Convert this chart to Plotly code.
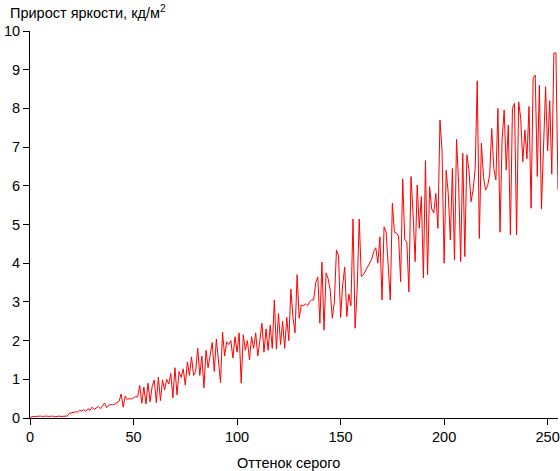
import plotly.graph_objects as go

# gray level 0..255 and brightness increment per step
gray = list(range(256))

inc_000 = [0.02, 0.04, 0.04, 0.04, 0.05, 0.05, 0.04, 0.05, 0.05, 0.04, 0.05, 0.05, 0.03, 0.04, 0.05, 0.04]
inc_016 = [0.05, 0.04, 0.05, 0.12, 0.13, 0.14, 0.16, 0.15, 0.2, 0.18, 0.22, 0.17, 0.24, 0.2, 0.28, 0.22]
inc_032 = [0.26, 0.3, 0.24, 0.33, 0.39, 0.27, 0.33, 0.35, 0.34, 0.36, 0.4, 0.43, 0.62, 0.28, 0.57, 0.48]
inc_048 = [0.5, 0.49, 0.52, 0.55, 0.55, 0.84, 0.38, 0.8, 0.36, 0.9, 0.42, 0.82, 0.98, 0.4, 1.05, 0.45]
inc_064 = [0.98, 0.72, 1.0, 0.88, 1.15, 0.52, 1.3, 0.6, 1.2, 1.05, 1.27, 0.85, 1.45, 1.1, 1.58, 1.1]
inc_080 = [1.2, 1.8, 1.1, 1.6, 0.78, 1.75, 1.3, 1.6, 1.95, 1.2, 2.04, 1.5, 0.91, 2.22, 1.6, 1.97]
inc_096 = [1.9, 2.0, 1.55, 2.1, 1.7, 2.2, 0.9, 2.15, 1.75, 2.0, 1.5, 2.1, 1.8, 2.2, 1.6, 2.0]
inc_112 = [2.45, 1.7, 2.3, 1.75, 2.4, 1.8, 3.05, 1.78, 2.7, 1.9, 2.5, 1.8, 2.6, 2.0, 3.33, 2.6]
inc_128 = [2.2, 3.7, 2.58, 2.92, 2.9, 2.95, 2.9, 3.0, 3.05, 3.05, 3.5, 3.64, 2.45, 4.03, 2.27, 3.75]
inc_144 = [3.6, 3.3, 2.58, 3.0, 4.34, 4.2, 2.6, 3.44, 3.9, 2.62, 3.2, 2.9, 5.14, 2.32, 3.3, 5.14]
inc_160 = [3.66, 3.7, 3.8, 3.9, 4.0, 4.1, 4.3, 4.4, 4.0, 4.68, 3.05, 4.94, 4.8, 3.9, 3.05, 5.55]
inc_176 = [4.8, 4.78, 4.7, 3.52, 6.18, 4.6, 4.55, 3.26, 6.24, 5.3, 4.04, 6.02, 4.9, 5.72, 3.62, 6.65]
inc_192 = [3.7, 5.98, 5.4, 5.3, 5.8, 4.9, 7.7, 6.9, 4.0, 6.4, 5.8, 4.6, 6.45, 4.08, 7.2, 6.06]
inc_208 = [4.04, 6.84, 4.17, 6.8, 6.41, 5.59, 5.89, 6.45, 8.71, 4.64, 7.1, 6.24, 5.89, 6.0, 6.28, 7.48]
inc_224 = [6.45, 6.15, 8.0, 4.8, 7.18, 7.96, 6.41, 7.57, 4.73, 8.0, 8.13, 4.73, 8.17, 7.74, 6.62, 7.44]
inc_240 = [6.7, 8.05, 5.42, 8.78, 8.86, 6.24, 8.6, 5.4, 6.88, 8.56, 6.9, 8.2, 6.3, 9.43, 9.43, 5.9]

increment = (inc_000 + inc_016 + inc_032 + inc_048 + inc_064 + inc_080 + inc_096 + inc_112
             + inc_128 + inc_144 + inc_160 + inc_176 + inc_192 + inc_208 + inc_224 + inc_240)

x_ticks = [0, 50, 100, 150, 200, 250]
y_ticks = list(range(0, 11))

FONT = "Liberation Sans, Arial, sans-serif"

fig = go.Figure()
fig.add_trace(go.Scatter(x=gray, y=increment, mode='lines',
                         line=dict(color='#ff0000', width=1), showlegend=False))

axis_common = dict(showgrid=False, zeroline=False, showline=True, linecolor='black', linewidth=1,
                   ticks='outside', ticklen=6, tickcolor='black', automargin=False,
                   tickfont=dict(family=FONT, size=14.5, color='black'))

fig.update_layout(
    width=560, height=471,
    margin=dict(l=30, r=2, t=31, b=53),
    paper_bgcolor='white', plot_bgcolor='white',
    xaxis=dict(range=[0, 255], tickvals=x_ticks, **axis_common),
    yaxis=dict(range=[0, 10], tickvals=y_ticks, **axis_common),
    annotations=[
        dict(text='Прирост яркости, кд/м<sup>2</sup>', xref='paper', yref='paper',
             x=-0.042, y=1.05, xanchor='left', yanchor='middle', showarrow=False,
             font=dict(family=FONT, size=14.5, color='black')),
        dict(text='Оттенок серого', xref='paper', yref='paper',
             x=0.489, y=-0.116, xanchor='center', yanchor='middle', showarrow=False,
             font=dict(family=FONT, size=14.5, color='black')),
    ],
)

# drop the default page margin so the 560x471 figure fills the window exactly
fig.write_html("out.html", config={'displayModeBar': False},
               post_script="document.body.style.margin='0';document.body.style.overflow='hidden';")
